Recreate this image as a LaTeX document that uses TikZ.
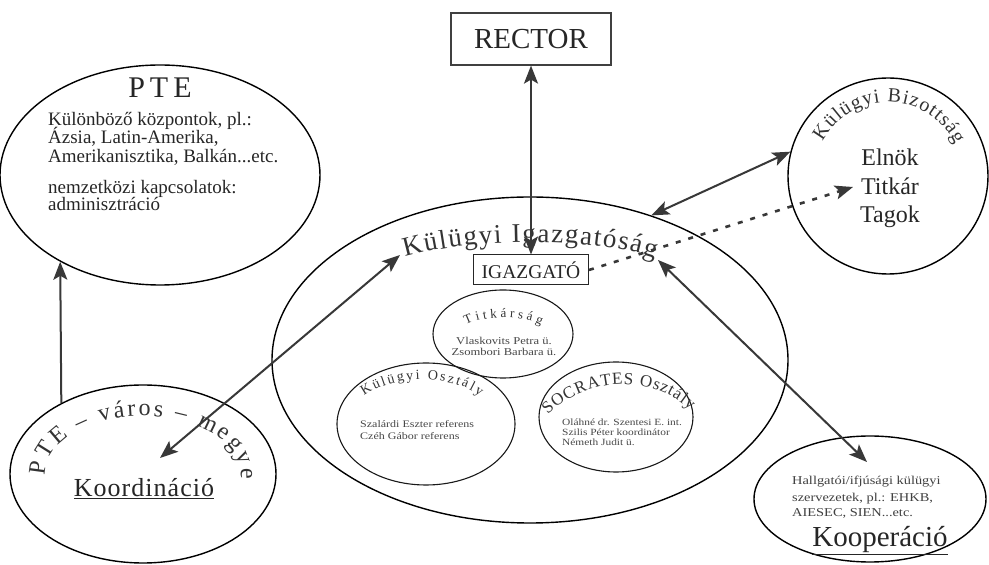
\documentclass[tikz,border=0pt]{standalone}
\usepackage{fontspec}
\setmainfont{Liberation Serif}
\newfontfamily\wideserif[FakeStretch=1.2]{Liberation Serif}
\newfontfamily\spacedserif[LetterSpace=4]{Liberation Serif}
\usetikzlibrary{shapes.geometric,arrows.meta,decorations.text}
\tikzset{
  ell/.style={ellipse, draw=black, line width=1.4pt, inner sep=0pt},
  sell/.style={ellipse, draw=black!90, line width=1.1pt, inner sep=0pt},
  conn/.style={draw=black!78, line width=2pt},
  biarr/.style={conn, {Stealth[length=18pt,width=14pt,inset=4pt]}-{Stealth[length=18pt,width=14pt,inset=4pt]}},
  uarr/.style={conn, -{Stealth[length=18pt,width=14pt,inset=4pt]}},
  dotarr/.style={draw=black!78, line width=2.6pt, dash pattern=on 5pt off 8pt, -{Stealth[length=18pt,width=14pt,inset=4pt]}},
  rbox/.style={draw=black!75, line width=1.2pt, minimum width=160pt, minimum height=52pt, inner sep=0pt, font=\fontsize{29}{29}\selectfont},
  ibox/.style={draw=black!85, line width=1pt, minimum width=115pt, minimum height=30pt, inner sep=0pt, font=\fontsize{19.5}{19.5}\selectfont},
  bodyL/.style={anchor=base west, inner sep=0pt, font=\fontsize{19}{19}\selectfont},
  smallL/.style={anchor=base west, inner sep=0pt, text=black!72, font=\wideserif\fontsize{10}{10}\selectfont},
  smallC/.style={anchor=base, inner sep=0pt, text=black!72, font=\wideserif\fontsize{10.5}{10.5}\selectfont},
  koopL/.style={anchor=base west, inner sep=0pt, text=black!75, font=\wideserif\fontsize{12}{12}\selectfont},
  bigC/.style={anchor=base, inner sep=0pt, font=\fontsize{24}{24}\selectfont},
  arctext/.style={decorate, decoration={text along path, text align={fit to path}, text color=black!80, text={#1}}}
}
\begin{document}
\begin{tikzpicture}[x=1pt,y=1pt, every node/.append style={text=black!85}]
\useasboundingbox (0,0) rectangle (989,565);
\fill[white] (0,0) rectangle (989,565);

% PTE
\node[ell, minimum width=320pt, minimum height=220pt] (pte) at (160,390) {};
\node[anchor=base, inner sep=0pt, font=\fontsize{30}{30}\selectfont] (ptet) at (160,467) {P\hspace{5pt}T\hspace{5pt}E};
\node[bodyL] (pte1) at (48,439) {Különböző központok, pl.:};
\node[bodyL] (pte2) at (48,421) {Ázsia, Latin-Amerika,};
\node[bodyL] (pte3) at (48,402) {Amerikanisztika, Balkán...etc.};
\node[bodyL] (pte4) at (48,371) {nemzetközi kapcsolatok:};
\node[bodyL] (pte5) at (48,354) {adminisztráció};

% RECTOR
\node[rbox] (rector) at (531,526) {RECTOR};

% main ellipse
\node[ell, minimum width=516pt, minimum height=326pt] (main) at (530,205) {};
\path[arctext={|\fontsize{27}{27}\selectfont|Külügyi Igazgatóság}] (405,308) .. controls (470,327) and (590,329) .. (655,307);
\node[ibox] (igaz) at (531,295) {IGAZGATÓ};

% Titkarsag
\node[sell, minimum width=140pt, minimum height=88pt] (titk) at (503,231) {};
\path[arctext={|\fontsize{13}{13}\selectfont|Titkárság}] (466,240) .. controls (485,250) and (522,250) .. (541,240);
\node[smallC] (titk1) at (504,220) {Vlaskovits Petra ü.};
\node[smallC] (titk2) at (504,209) {Zsombori Barbara ü.};

% Kulugyi Osztaly
\node[sell, minimum width=178pt, minimum height=122pt] (kuo) at (426,141) {};
\path[arctext={|\fontsize{14}{14}\selectfont|Külügyi Osztály}] (364,169) .. controls (395,191) and (450,191) .. (480,169);
\node[smallL] (kuo1) at (360,137) {Szalárdi Eszter referens};
\node[smallL] (kuo2) at (360,125) {Czéh Gábor referens};

% SOCRATES
\node[sell, minimum width=154pt, minimum height=110pt] (soc) at (616,148) {};
\path[arctext={|\fontsize{17}{17}\selectfont|SOCRATES Osztály}] (548,150) .. controls (585,187) and (650,193) .. (690,155);
\node[smallL, font=\wideserif\fontsize{9.5}{9.5}\selectfont] (soc1) at (562,139) {Oláhné dr. Szentesi E. int.};
\node[smallL, font=\wideserif\fontsize{9.5}{9.5}\selectfont] (soc2) at (562,129) {Szilis Péter koordinátor};
\node[smallL, font=\wideserif\fontsize{9.5}{9.5}\selectfont] (soc3) at (562,119) {Németh Judit ü.};

% Kulugyi Bizottsag
\node[ell, minimum width=200pt, minimum height=196pt] (biz) at (888,389) {};
\path[arctext={|\fontsize{20}{20}\selectfont|Külügyi Bizottság}] ([shift={(888,389)}]152:74) arc[start angle=152, end angle=25, radius=74];
\node[bigC] (elnok) at (890,399) {Elnök};
\node[bigC] (titkar) at (890,370) {Titkár};
\node[bigC] (tagok) at (890,342) {Tagok};

% Kooperacio
\node[ell, minimum width=232pt, minimum height=126pt] (koop) at (870,66) {};
\node[koopL] (koop1) at (792,80) {Hallgatói/ifjúsági külügyi};
\node[koopL] (koop2) at (792,63) {szervezetek, pl.: EHKB,};
\node[koopL] (koop3) at (792,48) {AIESEC, SIEN...etc.};
\node[anchor=base, inner sep=0pt, font=\fontsize{29}{29}\selectfont] (kooptit) at (880,18) {\underline{Kooperáció}};

% Koordinacio
\node[ell, minimum width=266pt, minimum height=178pt] (koord) at (143,91) {};
\path[arctext={|\fontsize{24}{24}\selectfont|PTE – város – megye}] ([shift={(143,91)}]182:98 and 58) arc[start angle=182, end angle=-5, x radius=98, y radius=58];
\node[anchor=base, inner sep=0pt, font=\spacedserif\fontsize{26}{26}\selectfont] (koordtit) at (144,68) {\underline{Koordináció}};

% free ends
\coordinate (mainL) at (400,310);
\coordinate (koordIn) at (160,107);
\coordinate (mainR) at (658,305);
\coordinate (koopIn) at (867,103);
\coordinate (bizIn) at (853,378);

% connectors
\draw[biarr] (rector.south) -- (igaz.north);
\draw[biarr] (main.50) -- (biz.166);
\draw[dotarr] (igaz.east) -- (bizIn);
\draw[biarr] (mainR) -- (koopIn);
\draw[biarr] (mainL) -- (koordIn);
\draw[uarr] (koord.139.5) -- (pte.221);
\end{tikzpicture}
\end{document}
